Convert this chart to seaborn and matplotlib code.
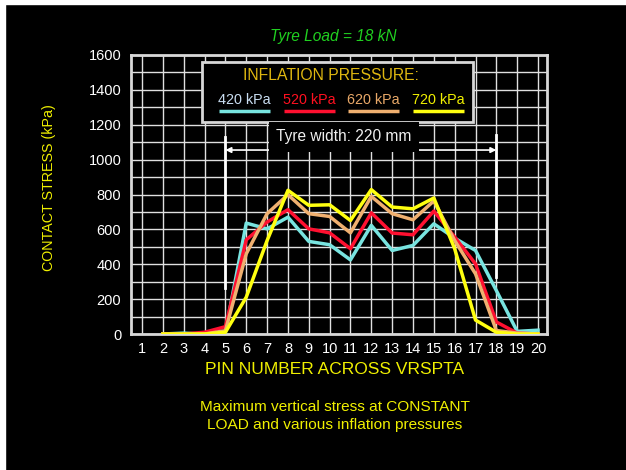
import numpy as np
import pandas as pd
import matplotlib
matplotlib.use("Agg")
import matplotlib.pyplot as plt
import seaborn as sns
from matplotlib.patches import Rectangle

# ---- data ----
pins = [2, 3, 4, 5, 6, 7, 8, 9, 10, 11, 12, 13, 14, 15, 16, 17, 18, 19, 20]
p420 = [0, 5, 0, 10, 636, 603, 670, 531, 512, 425, 623, 479, 508, 632, 550, 479, 249, 15, 22]
p520 = [0, 0, 10, 42, 540, 642, 713, 603, 580, 489, 695, 579, 569, 705, 556, 402, 69, 5, 0]
p620 = [0, 0, 0, 19, 460, 690, 799, 690, 674, 580, 789, 690, 655, 763, 536, 345, 20, 5, 0]
p720 = [0, 0, 0, 10, 211, 536, 824, 738, 741, 651, 828, 728, 718, 780, 489, 80, 10, 0, 0]
series_names = ["420 kPa", "520 kPa", "620 kPa", "720 kPa"]
colors = ["#78e4e0", "#ff1030", "#f0b070", "#ffff10"]
text_colors = ["#c8dcf0", "#ff1020", "#e8a868", "#f0f000"]
x_ticks = list(range(1, 21))
y_ticks = list(range(0, 1601, 200))

df = pd.concat([
    pd.DataFrame({"pin": pins, "stress": vals, "pressure": name})
    for name, vals in zip(series_names, [p420, p520, p620, p720])
])

W, H = 626, 470
plt.rcParams["font.family"] = ["Liberation Sans", "DejaVu Sans"]
fig = plt.figure(figsize=(W / 100, H / 100), dpi=100, facecolor="black")
# thin white strips at top and left edges
fig.patches.append(Rectangle((0, 0), 4.5 / W, 1, transform=fig.transFigure, color="white", zorder=0))
fig.patches.append(Rectangle((0, 1 - 4 / H), 1, 4 / H, transform=fig.transFigure, color="white", zorder=0))

L, R, T, B = 131, 547, 55, 334
ax = fig.add_axes([L / W, 1 - B / H, (R - L) / W, (B - T) / H])
ax.set_facecolor("black")

sns.lineplot(data=df, x="pin", y="stress", hue="pressure", palette=colors,
             hue_order=series_names, linewidth=2.5, ax=ax, legend=False, zorder=3)

ax.set_xlim(0.47, 20.43)
ax.set_ylim(0, 1600)
ax.set_xticks(x_ticks)
ax.set_xticklabels([str(v) for v in x_ticks])
ax.set_yticks(y_ticks)
ax.set_yticks(range(100, 1600, 200), minor=True)
ax.tick_params(axis="both", which="both", length=0, colors="white", labelsize=10.5, pad=6)
ax.tick_params(axis="y", pad=7)
ax.grid(True, which="both", color="#e0e0e0", linewidth=1.0, zorder=1)
ax.set_axisbelow(True)
for s in ax.spines.values():
    s.set_color("#d8d8d8")
    s.set_linewidth(2)
ax.set_xlabel("")
ax.set_ylabel("")

def fx(px):
    return px / W

def fy(py):
    return 1 - py / H

# title, axis labels, caption
fig.text(fx(333), fy(36), "Tyre Load = 18 kN", color="#20d020", fontsize=11.2,
         style="italic", ha="center", va="center")
fig.text(fx(335), fy(369), "PIN NUMBER ACROSS VRSPTA", color="#f0f000", fontsize=12.5,
         ha="center", va="center")
fig.text(fx(49), fy(188), "CONTACT STRESS (kPa)", color="#f0f000", fontsize=10.3,
         rotation=90, ha="center", va="center")
fig.text(fx(335), fy(407), "Maximum vertical stress at CONSTANT", color="#f0f000",
         fontsize=11.1, ha="center", va="center")
fig.text(fx(335), fy(425), "LOAD and various inflation pressures", color="#f0f000",
         fontsize=11.1, ha="center", va="center")

# legend box (manual)
def ax_fx(px):
    return (px - L) / (R - L)

def ax_fy(py):
    return (B - py) / (B - T)

box = Rectangle((ax_fx(202), ax_fy(122)), ax_fx(473) - ax_fx(202), ax_fy(62) - ax_fy(122),
                transform=ax.transAxes, facecolor="black", edgecolor="#d8d8d8",
                linewidth=2, zorder=5)
ax.add_patch(box)
ax.text(ax_fx(331), ax_fy(76), "INFLATION PRESSURE:", transform=ax.transAxes,
        color="#e0b810", fontsize=11.3, ha="center", va="center", zorder=6)
for cx, name, c, tc in zip([244, 309, 373, 438], series_names, colors, text_colors):
    ax.text(ax_fx(cx), ax_fy(100), name, transform=ax.transAxes, color=tc,
            fontsize=10.4, ha="center", va="center", zorder=6)
    ax.plot([ax_fx(cx - 25.5), ax_fx(cx + 25.5)], [ax_fy(111), ax_fy(111)],
            transform=ax.transAxes, color=c, linewidth=2.5, zorder=6,
            solid_capstyle="butt")

# tyre width annotation
ax.plot([5, 5], [264, 1130], color="white", linewidth=2, zorder=4)
ax.plot([18, 18], [327, 1140], color="white", linewidth=2, zorder=4)
ax.annotate("", xy=(5, 1055), xytext=(18, 1055),
            arrowprops=dict(arrowstyle="<|-|>", color="white", lw=1.2,
                            mutation_scale=8, shrinkA=0, shrinkB=0), zorder=4)
ax.text(10.69, 1130, "Tyre width: 220 mm", color="#f0f0f0", fontsize=11.2,
        ha="center", va="center", zorder=6,
        bbox=dict(boxstyle="square,pad=0.5", facecolor="black", edgecolor="none"))

fig.savefig("out.png", dpi=100, facecolor=fig.get_facecolor())
